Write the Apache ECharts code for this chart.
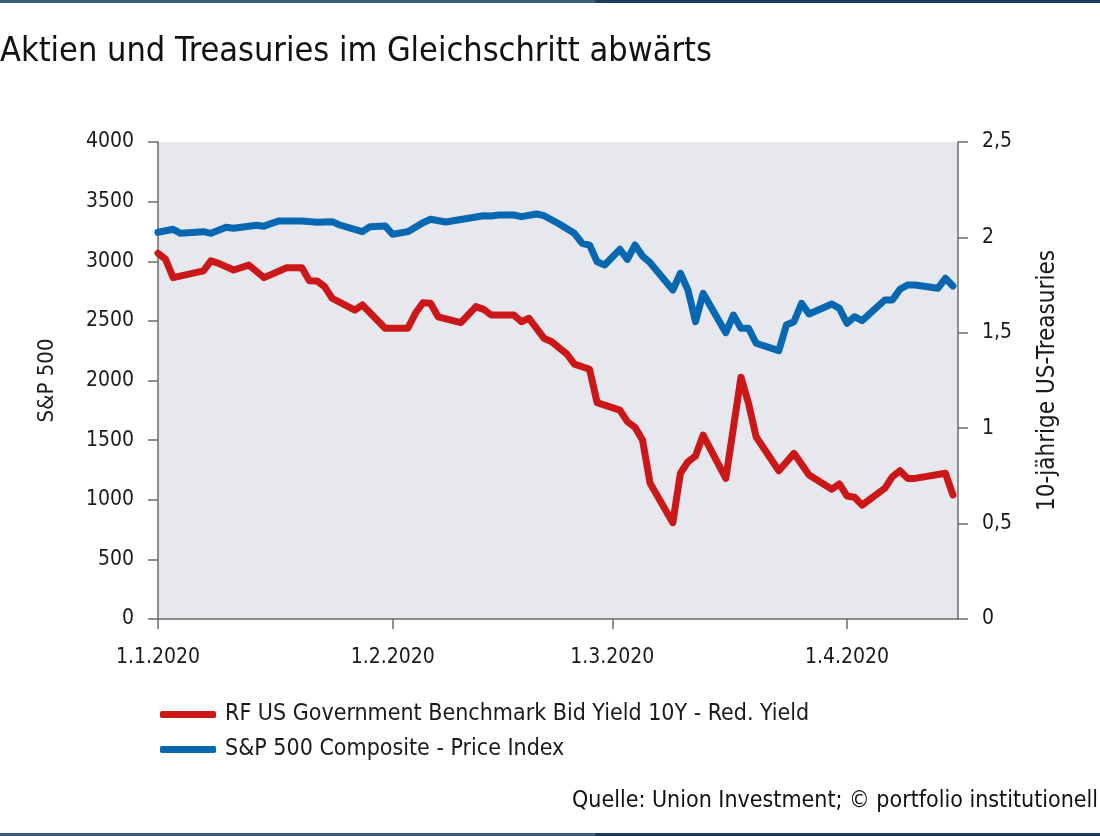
<!DOCTYPE html>
<html>
<head>
<meta charset="utf-8">
<script src="https://cdn.jsdelivr.net/npm/echarts@6/dist/echarts.min.js"></script>
<style>
html,body{margin:0;padding:0;background:#fff;}
#chart{width:1100px;height:836px;}
</style>
</head>
<body>
<div id="chart"></div>
<script>
// ---- Data ----
const titleText = 'Aktien und Treasuries im Gleichschritt abwärts';
const sourceText = 'Quelle: Union Investment; © portfolio institutionell';
const leftAxisName = 'S&P 500';
const rightAxisName = '10-jährige US-Treasuries';
const yieldName = 'RF US Government Benchmark Bid Yield 10Y - Red. Yield';
const spxName = 'S&P 500 Composite - Price Index';

const spxDates = ['2020-01-01','2020-01-03','2020-01-04','2020-01-07','2020-01-08','2020-01-10','2020-01-11','2020-01-14','2020-01-15','2020-01-16','2020-01-17','2020-01-20','2020-01-22','2020-01-24','2020-01-25','2020-01-28','2020-01-29','2020-01-31','2020-02-01','2020-02-03','2020-02-05','2020-02-06','2020-02-08','2020-02-11','2020-02-13','2020-02-14','2020-02-15','2020-02-17','2020-02-18','2020-02-20','2020-02-21','2020-02-23','2020-02-25','2020-02-26','2020-02-27','2020-02-28','2020-02-29','2020-03-02','2020-03-03','2020-03-04','2020-03-05','2020-03-06','2020-03-09','2020-03-10','2020-03-11','2020-03-12','2020-03-13','2020-03-16','2020-03-17','2020-03-18','2020-03-19','2020-03-20','2020-03-23','2020-03-24','2020-03-25','2020-03-26','2020-03-27','2020-03-30','2020-03-31','2020-04-01','2020-04-02','2020-04-03','2020-04-06','2020-04-07','2020-04-08','2020-04-09','2020-04-10','2020-04-13','2020-04-14','2020-04-15'];
const spxValues = [3243,3268,3234,3248,3234,3285,3276,3302,3293,3318,3338,3338,3327,3332,3304,3248,3290,3296,3226,3248,3323,3352,3329,3360,3382,3380,3388,3388,3374,3396,3382,3312,3234,3151,3136,2996,2969,3100,3016,3136,3044,2988,2759,2899,2759,2493,2731,2401,2549,2438,2438,2312,2250,2465,2493,2647,2558,2642,2605,2480,2535,2502,2675,2675,2765,2801,2801,2773,2857,2792];

const yieldDates = ['2020-01-01','2020-01-02','2020-01-03','2020-01-07','2020-01-08','2020-01-09','2020-01-11','2020-01-13','2020-01-15','2020-01-18','2020-01-20','2020-01-21','2020-01-22','2020-01-23','2020-01-24','2020-01-27','2020-01-28','2020-01-31','2020-02-03','2020-02-04','2020-02-05','2020-02-06','2020-02-07','2020-02-10','2020-02-12','2020-02-13','2020-02-14','2020-02-17','2020-02-18','2020-02-19','2020-02-21','2020-02-22','2020-02-24','2020-02-25','2020-02-27','2020-02-28','2020-03-02','2020-03-03','2020-03-04','2020-03-05','2020-03-06','2020-03-09','2020-03-10','2020-03-11','2020-03-12','2020-03-13','2020-03-16','2020-03-18','2020-03-19','2020-03-20','2020-03-23','2020-03-25','2020-03-27','2020-03-30','2020-03-31','2020-04-01','2020-04-02','2020-04-03','2020-04-06','2020-04-07','2020-04-08','2020-04-09','2020-04-10','2020-04-14','2020-04-15'];
const yieldValues = [1.917,1.885,1.789,1.825,1.878,1.864,1.829,1.855,1.789,1.841,1.841,1.773,1.772,1.742,1.681,1.619,1.646,1.524,1.524,1.602,1.658,1.655,1.584,1.553,1.637,1.623,1.593,1.593,1.558,1.576,1.471,1.453,1.389,1.336,1.309,1.134,1.095,1.034,1.005,0.938,0.711,0.505,0.764,0.824,0.854,0.964,0.737,1.267,1.130,0.955,0.777,0.868,0.755,0.680,0.708,0.645,0.638,0.597,0.685,0.746,0.777,0.737,0.737,0.764,0.650];

const xMin = '2020-01-01';
const xMax = '2020-04-15 16:00';

// ---- Chart ----
const FONT = "'Liberation Sans Narrow','DejaVu Sans Condensed',Roboto,sans-serif";
const TXT = '#1a1a1a';
const AX = '#6b6b6b';
const chart = echarts.init(document.getElementById('chart'), null, {renderer:'canvas'});
const day = 24*3600*1000;

chart.setOption({
  backgroundColor:'#ffffff',
  animation:false,
  textStyle:{fontFamily:FONT, color:TXT},
  title:[
    {text:titleText, left:0, top:35, padding:0, textStyle:{fontFamily:FONT, fontSize:34, fontWeight:'normal', color:'#111'}},
    {text:sourceText, right:2, top:790, padding:0, textStyle:{fontFamily:FONT, fontSize:23, fontWeight:'normal', color:'#111'}}
  ],
  graphic:[
    {type:'rect', left:0, top:0, shape:{width:595, height:3}, style:{fill:'#3c5b7d'}},
    {type:'rect', left:595, top:0, shape:{width:505, height:3}, style:{fill:'#1c3a5e'}},
    {type:'rect', left:0, top:833, shape:{width:595, height:3}, style:{fill:'#3c5b7d'}},
    {type:'rect', left:595, top:833, shape:{width:505, height:3}, style:{fill:'#1c3a5e'}}
  ],
  grid:{left:158, right:142, top:142, bottom:217, show:true, backgroundColor:'#e7e7ee', borderWidth:0, containLabel:false},
  legend:{
    orient:'vertical', left:155, top:698, itemGap:12, itemWidth:56, itemHeight:7,
    icon:'roundRect',
    textStyle:{fontFamily:FONT, fontSize:23, color:TXT, padding:[0,0,0,4]},
    data:[yieldName, spxName]
  },
  xAxis:{
    type:'time', min:xMin, max:xMax,
    splitNumber:3, minInterval:28*day, maxInterval:31*day,
    axisLine:{show:true, lineStyle:{color:AX, width:1.5}},
    axisTick:{show:true, inside:false, length:10, lineStyle:{color:AX, width:1.5}},
    axisLabel:{formatter:'{d}.{M}.{yyyy}', fontFamily:FONT, fontSize:21, color:TXT, margin:28, showMaxLabel:false},
    splitLine:{show:false}
  },
  yAxis:[
    {type:'value', min:0, max:4000, interval:500, position:'left',
     name:leftAxisName, nameLocation:'middle', nameGap:100, nameRotate:90,
     nameTextStyle:{fontFamily:FONT, fontSize:22, color:TXT},
     axisLine:{show:true, lineStyle:{color:AX, width:1.5}},
     axisTick:{show:true, length:10, lineStyle:{color:AX, width:1.5}},
     axisLabel:{fontFamily:FONT, fontSize:21, color:TXT, margin:24,
       formatter:function(v){return String(v);}},
     splitLine:{show:false}},
    {type:'value', min:0, max:2.5, interval:0.5, position:'right',
     name:rightAxisName, nameLocation:'middle', nameGap:78, nameRotate:90,
     nameTextStyle:{fontFamily:FONT, fontSize:24, color:TXT},
     axisLine:{show:true, lineStyle:{color:AX, width:1.5}},
     axisTick:{show:true, length:10, lineStyle:{color:AX, width:1.5}},
     axisLabel:{fontFamily:FONT, fontSize:21, color:TXT, margin:24,
       formatter:function(v){return String(v).replace('.', ',');}},
     splitLine:{show:false}}
  ],
  series:[
    {name:yieldName, type:'line', yAxisIndex:1, showSymbol:false, symbol:'none',
     data:yieldDates.map((d,i)=>[d, yieldValues[i]]),
     color:'#cc1719',
     lineStyle:{color:'#cc1719', width:7, cap:'round', join:'round'}},
    {name:spxName, type:'line', yAxisIndex:0, showSymbol:false, symbol:'none',
     data:spxDates.map((d,i)=>[d, spxValues[i]]),
     color:'#0867b1',
     lineStyle:{color:'#0867b1', width:7, cap:'round', join:'round'}}
  ]
});
</script>
</body>
</html>
